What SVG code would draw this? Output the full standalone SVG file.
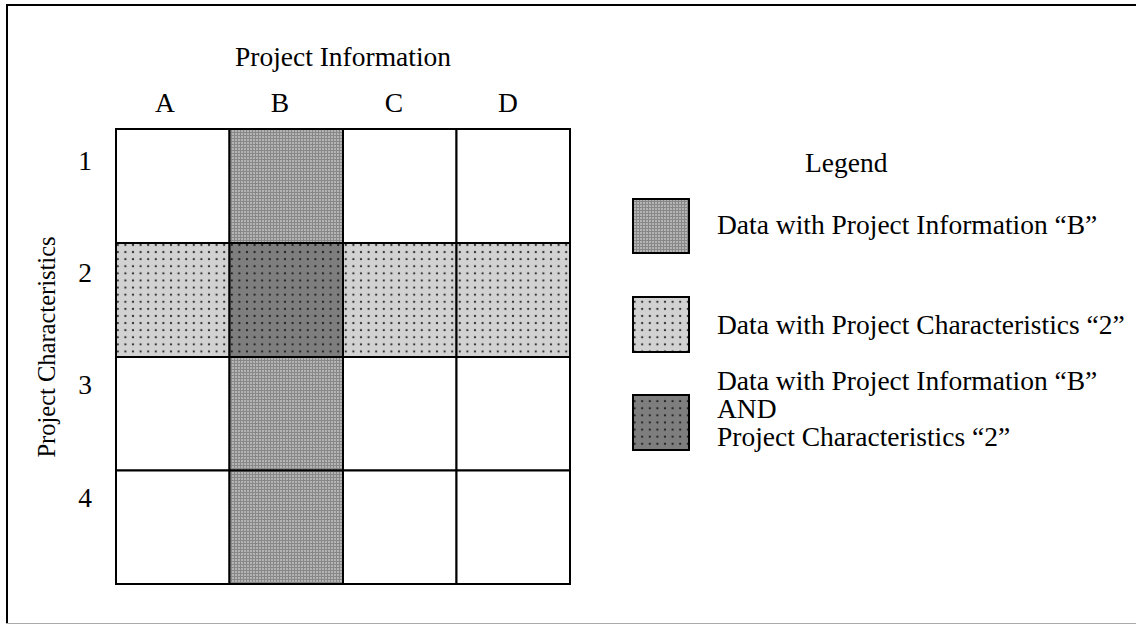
<svg xmlns="http://www.w3.org/2000/svg" width="1136" height="625" viewBox="0 0 1136 625">
  <style>
    text { font-family: "Liberation Serif", "Times New Roman", serif; font-size: 27.5px; fill: #000; }
    .mid { text-anchor: middle; }
    .vert { font-size: 24.5px; }
    .cell { stroke: #000; stroke-width: 2; }
    .white { fill: #fff; }
    .colB { fill: url(#gridPat); }
    .row2 { fill: url(#dotLight); }
    .both { fill: url(#dotDark); }
  </style>
  <defs>
    <pattern id="gridPat" width="3" height="3" patternUnits="userSpaceOnUse">
      <rect width="3" height="3" fill="#b4b4b4"/>
      <rect width="3" height="1" fill="#888"/>
      <rect width="1" height="3" fill="#888"/>
    </pattern>
    <pattern id="dotLight" width="7.6" height="7.1" patternUnits="userSpaceOnUse">
      <rect width="7.6" height="7.1" fill="#d2d2d2"/>
      <circle cx="3.8" cy="3.5" r="1.15" fill="#333"/>
    </pattern>
    <pattern id="dotDark" width="7.6" height="7.1" patternUnits="userSpaceOnUse">
      <rect width="7.6" height="7.1" fill="#7e7e7e"/>
      <circle cx="3.8" cy="3.5" r="1.15" fill="#222"/>
    </pattern>
  </defs>

  <rect width="1136" height="625" fill="#fff"/>

  <g id="frame">
    <line x1="7" y1="5" x2="1136" y2="5" stroke="#000" stroke-width="2"/>
    <line x1="7" y1="4" x2="7" y2="624" stroke="#000" stroke-width="2"/>
    <line x1="6" y1="623.5" x2="1136" y2="623.5" stroke="#aaa" stroke-width="1"/>
  </g>

  <g id="axis-labels">
    <text class="mid" x="343" y="66">Project Information</text>
    <text class="mid" x="165" y="112">A</text>
    <text class="mid" x="280" y="112">B</text>
    <text class="mid" x="394" y="112">C</text>
    <text class="mid" x="508" y="112">D</text>
    <text class="mid" x="85" y="170">1</text>
    <text class="mid" x="85" y="282">2</text>
    <text class="mid" x="85" y="394">3</text>
    <text class="mid" x="85" y="507">4</text>
    <text class="mid vert" transform="translate(55,347) rotate(-90)">Project Characteristics</text>
  </g>

  <g id="matrix">
    <g id="cell-A1"><rect class="cell white" x="116" y="129" width="113.5" height="114"/></g>
    <g id="cell-B1"><rect class="cell colB" x="229.5" y="129" width="113.5" height="114"/></g>
    <g id="cell-C1"><rect class="cell white" x="343" y="129" width="113.5" height="114"/></g>
    <g id="cell-D1"><rect class="cell white" x="456.5" y="129" width="113.5" height="114"/></g>

    <g id="cell-A2"><rect class="cell row2" x="116" y="243" width="113.5" height="114"/></g>
    <g id="cell-B2"><rect class="cell both" x="229.5" y="243" width="113.5" height="114"/></g>
    <g id="cell-C2"><rect class="cell row2" x="343" y="243" width="113.5" height="114"/></g>
    <g id="cell-D2"><rect class="cell row2" x="456.5" y="243" width="113.5" height="114"/></g>

    <g id="cell-A3"><rect class="cell white" x="116" y="357" width="113.5" height="113.5"/></g>
    <g id="cell-B3"><rect class="cell colB" x="229.5" y="357" width="113.5" height="113.5"/></g>
    <g id="cell-C3"><rect class="cell white" x="343" y="357" width="113.5" height="113.5"/></g>
    <g id="cell-D3"><rect class="cell white" x="456.5" y="357" width="113.5" height="113.5"/></g>

    <g id="cell-A4"><rect class="cell white" x="116" y="470.5" width="113.5" height="113.5"/></g>
    <g id="cell-B4"><rect class="cell colB" x="229.5" y="470.5" width="113.5" height="113.5"/></g>
    <g id="cell-C4"><rect class="cell white" x="343" y="470.5" width="113.5" height="113.5"/></g>
    <g id="cell-D4"><rect class="cell white" x="456.5" y="470.5" width="113.5" height="113.5"/></g>
  </g>

  <g id="connectors"></g>

  <g id="legend">
    <text x="805" y="172">Legend</text>
    <g id="legend-1">
      <rect class="cell colB" x="633" y="199" width="56" height="54"/>
      <text x="717" y="234">Data with Project Information “B”</text>
    </g>
    <g id="legend-2">
      <rect class="cell row2" x="633" y="297" width="56" height="55"/>
      <text x="717" y="334">Data with Project Characteristics “2”</text>
    </g>
    <g id="legend-3">
      <rect class="cell both" x="633" y="395" width="56" height="55"/>
      <text x="717" y="390">Data with Project Information “B”</text>
      <text x="717" y="418">AND</text>
      <text x="717" y="446">Project Characteristics “2”</text>
    </g>
  </g>
</svg>
